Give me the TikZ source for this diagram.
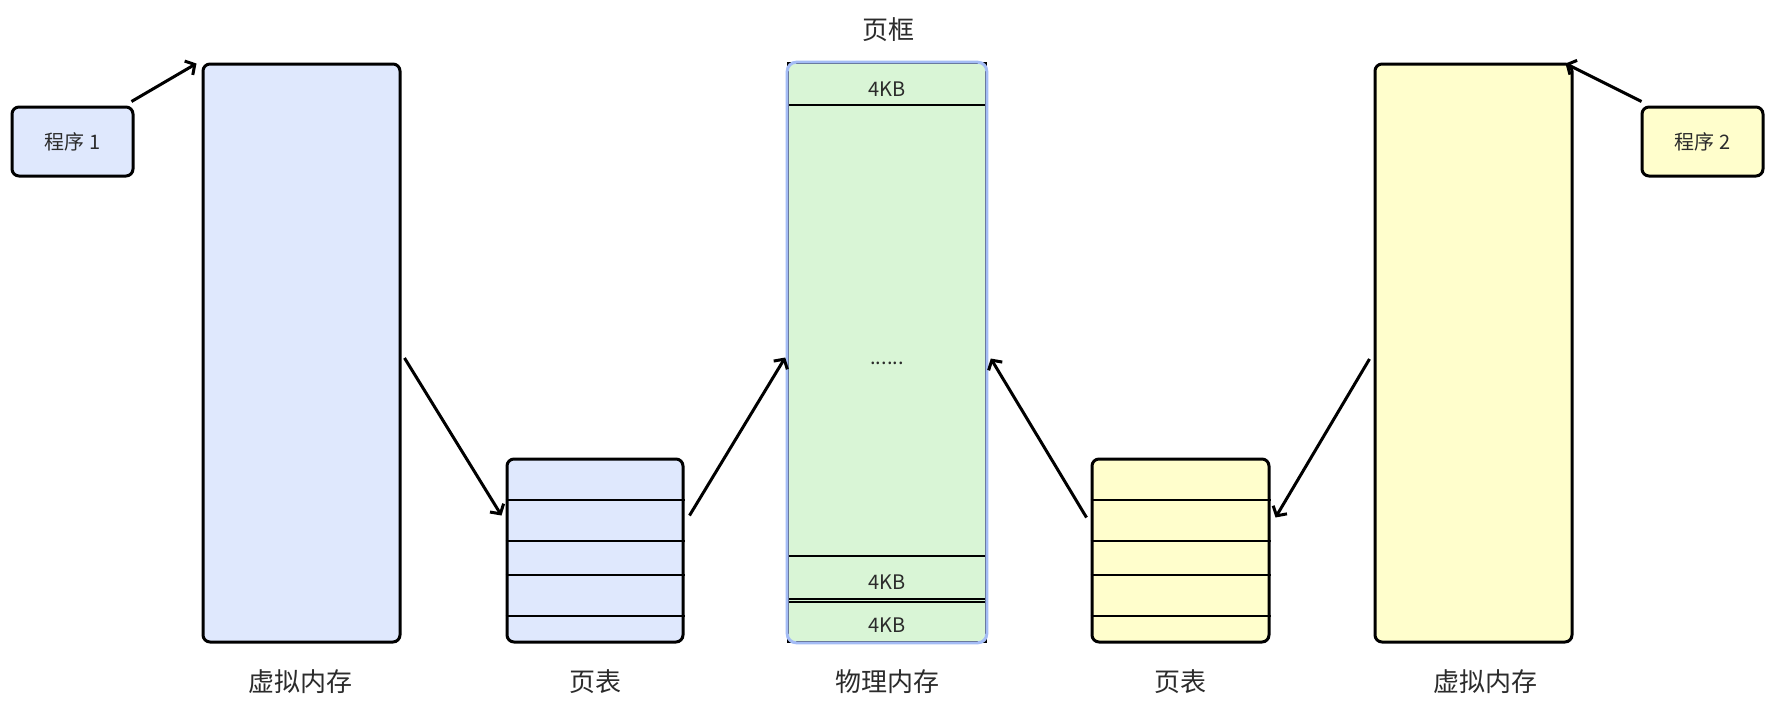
\documentclass[tikz,border=0pt]{standalone}
\usepackage{fontspec}
\newfontfamily\cjk{Noto Sans CJK SC}
\usetikzlibrary{arrows.meta}
\definecolor{vmblue}{HTML}{DFE8FD}
\definecolor{pmgreen}{HTML}{D9F5D6}
\definecolor{vmyellow}{HTML}{FFFECC}
\definecolor{pmedge}{HTML}{A4BCF5}
\definecolor{txt}{HTML}{2B2B2B}
\tikzset{
	box/.style={draw=black, line width=3pt, rounded corners=7pt, inner sep=0pt},
	cell/.style={draw=black, line width=2.8pt},
	arr/.style={line width=3pt, -{Straight Barb[length=7pt,width=16pt]}},
	lbl/.style={text=txt, font=\cjk\fontsize{26pt}{30pt}\selectfont},
	small/.style={text=txt, font=\cjk\fontsize{20pt}{24pt}\selectfont}
}
\begin{document}
\begin{tikzpicture}[x=1pt,y=-1pt]
		\fill[white] (0,0) rectangle (1781,713);
		\useasboundingbox (0,0) rectangle (1781,713);
		% programs
		\node[box, fill=vmblue, minimum width=121pt, minimum height=69pt, small] (prog1) at (72.5,141.5) {程序 1};
		\node[box, fill=vmyellow, minimum width=121pt, minimum height=69pt, small] (prog2) at (1702.5,141.5) {程序 2};
		% virtual memory
		\node[box, fill=vmblue, minimum width=197pt, minimum height=578pt] (vm1) at (301.5,353) {};
		\node[box, fill=vmyellow, minimum width=197pt, minimum height=578pt] (vm2) at (1473.5,353) {};
		% page tables
		\node[box, fill=vmblue, minimum width=176pt, minimum height=183pt] (pt1) at (595,550.5) {};
		\node[box, fill=vmyellow, minimum width=177pt, minimum height=183pt] (pt2) at (1180.5,550.5) {};
		\foreach \y in {500,541,575,616} {
			\draw[cell] (pt1.west |- 0,\y) -- (pt1.east |- 0,\y);
			\draw[cell] (pt2.west |- 0,\y) -- (pt2.east |- 0,\y);
		}
		% physical memory
		\node[draw=black, line width=1.6pt, fill=pmgreen, minimum width=198pt, minimum height=579pt, inner sep=0pt] (pm) at (887,352.5) {};
		\foreach \y in {105,556,599,602}
			\draw[cell] (pm.west |- 0,\y) -- (pm.east |- 0,\y);
		\draw[pmedge, line width=3pt, rounded corners=9pt] (pm.north west) rectangle (pm.south east);
		\node[small] (kb1) at (887,89) {4KB};
		\node[small] (kb2) at (887,582) {4KB};
		\node[small] (kb3) at (887,625) {4KB};
		\node[small, anchor=base] (dots) at (887,364) {......};
		% labels
		\node[lbl] (frame) at (888,30) {页框};
		\node[lbl] (l1) at (300,682) {虚拟内存};
		\node[lbl] (l2) at (595,682) {页表};
		\node[lbl] (l3) at (887,682) {物理内存};
		\node[lbl] (l4) at (1180,682) {页表};
		\node[lbl] (l5) at (1485,682) {虚拟内存};
		% arrows
		\draw[arr] ([shift={(-3,-4)}]prog1.north east) -- ([shift={(-5,1)}]vm1.north west);
		\draw[arr] ([shift={(1,-4)}]prog2.north west) -- ([shift={(-8,1)}]vm2.north east);
		\draw[arr] ([shift={(3,5)}]vm1.east) -- ([shift={(-4,-35)}]pt1.west);
		\draw[arr] ([shift={(5,-35)}]pt1.east) -- ([shift={(-2,5)}]pm.west);
		\draw[arr] ([shift={(-4,-33)}]pt2.west) -- ([shift={(4,6)}]pm.east);
		\draw[arr] ([shift={(-4,6)}]vm2.west) -- ([shift={(5,-33)}]pt2.east);
\end{tikzpicture}
\end{document}
